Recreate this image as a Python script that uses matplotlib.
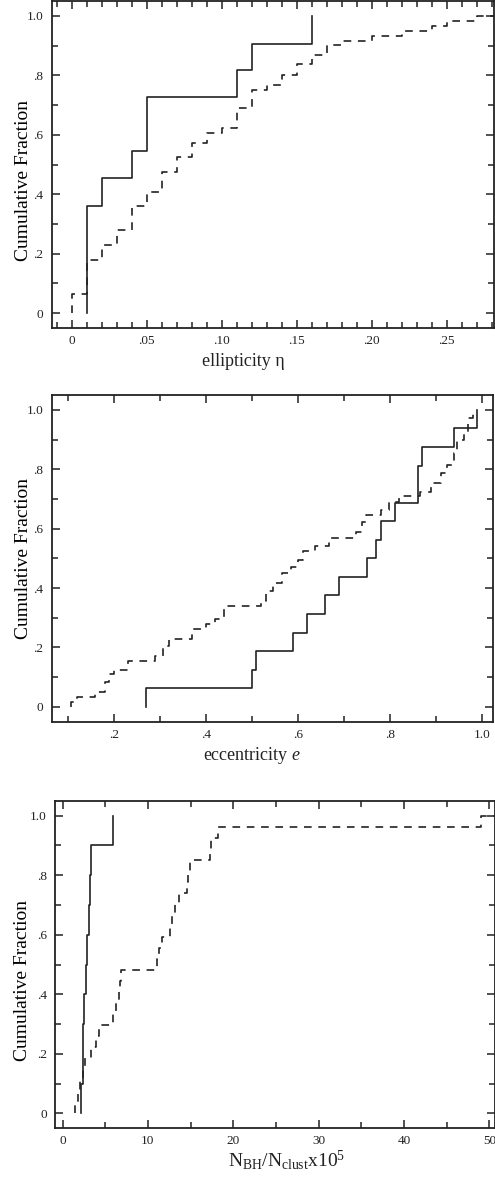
import matplotlib
matplotlib.use("Agg")
import matplotlib.pyplot as plt
from matplotlib.ticker import MultipleLocator, FuncFormatter
import numpy as np

plt.rcParams['font.family'] = ['Liberation Serif', 'DejaVu Serif']
plt.rcParams['mathtext.fontset'] = 'custom'
plt.rcParams['mathtext.rm'] = 'Liberation Serif'
plt.rcParams['mathtext.it'] = 'Liberation Serif:italic'
plt.rcParams['lines.scale_dashes'] = False

# ellipticity: step positions and cumulative fraction
eta_solid = [0.01, 0.02, 0.04, 0.05, 0.11, 0.12, 0.16]
frac_eta_solid = [0.362, 0.454, 0.545, 0.726, 0.818, 0.907, 1.0]
eta_dash = [0.00, 0.01, 0.02, 0.03, 0.04, 0.05, 0.06, 0.07, 0.08, 0.09, 0.10, 0.11,
            0.12, 0.13, 0.14, 0.15, 0.16, 0.17, 0.18, 0.20, 0.22, 0.24, 0.25, 0.27]
frac_eta_dash = [0.066, 0.180, 0.228, 0.279, 0.362, 0.409, 0.474, 0.525, 0.572, 0.605, 0.622, 0.689,
                 0.752, 0.768, 0.802, 0.838, 0.869, 0.902, 0.916, 0.933, 0.950, 0.966, 0.983, 1.0]

# eccentricity
ecc_solid = [0.27, 0.50, 0.51, 0.59, 0.62, 0.66, 0.69, 0.75, 0.77, 0.78, 0.81, 0.86, 0.86, 0.87, 0.94, 0.99]
frac_ecc_solid = [0.0625, 0.125, 0.1875, 0.25, 0.3125, 0.375, 0.4375, 0.5, 0.5625, 0.625, 0.6875,
                  0.75, 0.8125, 0.875, 0.9375, 1.0]
ecc_dash = [0.108, 0.12, 0.16, 0.18, 0.19, 0.20, 0.23, 0.29, 0.307, 0.32, 0.37, 0.40, 0.42, 0.44,
            0.52, 0.53, 0.545, 0.566, 0.586, 0.60, 0.611, 0.637, 0.668, 0.727, 0.739, 0.749, 0.78,
            0.798, 0.82, 0.865, 0.89, 0.91, 0.923, 0.939, 0.946, 0.96, 0.97, 0.98]
frac_ecc_dash = [0.017, 0.033, 0.050, 0.083, 0.110, 0.124, 0.155, 0.171, 0.205, 0.230, 0.263, 0.278,
                 0.295, 0.339, 0.356, 0.390, 0.418, 0.450, 0.470, 0.496, 0.524, 0.541, 0.570, 0.588,
                 0.621, 0.647, 0.664, 0.689, 0.709, 0.722, 0.754, 0.787, 0.815, 0.855, 0.899, 0.927,
                 0.972, 1.0]

# N_BH / N_clust x 1e5
nbh_solid = [2.2, 2.35, 2.45, 2.55, 2.7, 2.85, 3.1, 3.2, 3.3, 5.9]
frac_nbh_solid = [0.1, 0.2, 0.3, 0.4, 0.5, 0.6, 0.7, 0.8, 0.9, 1.0]
nbh_dash = [1.47, 1.85, 2.05, 2.37, 2.6, 3.34, 3.89, 4.3, 5.96, 6.3, 6.6, 6.75, 6.86, 11.04, 11.3,
            11.7, 12.6, 12.8, 13.2, 13.66, 14.56, 14.75, 14.9, 17.3, 17.4, 18.27, 49.06]
frac_nbh_dash = [0.037, 0.074, 0.111, 0.148, 0.185, 0.222, 0.259, 0.296, 0.333, 0.370, 0.407, 0.444,
                 0.481, 0.519, 0.556, 0.593, 0.630, 0.667, 0.704, 0.741, 0.778, 0.815, 0.852, 0.889,
                 0.926, 0.963, 1.0]

ink = '#222222'


def strip_zero(s):
    if s.startswith('0.'):
        s = s[1:]
    return s


def fmt1(v, pos):
    if abs(v) < 1e-9:
        return '0'
    return strip_zero(f'{v:.1f}')


def fmt2(v, pos):
    if abs(v) < 1e-9:
        return '0'
    return strip_zero(f'{v:.2f}')


def cdf(ax, x, f, dashed=False, extend=None):
    xs = [x[0]] + list(x)
    ys = [0.0] + list(f)
    if extend is not None:
        xs.append(extend)
        ys.append(f[-1])
    if dashed:
        ax.step(xs, ys, where='post', color=ink, lw=1.2, dashes=(5.5, 4.8))
    else:
        ax.step(xs, ys, where='post', color=ink, lw=1.2)


def style(ax):
    for s in ax.spines.values():
        s.set_linewidth(1.3)
        s.set_color(ink)
    ax.tick_params(which='both', direction='in', top=True, right=True, colors=ink,
                   labelsize=9.5, width=1.1)
    ax.tick_params(which='major', length=6)
    ax.tick_params(which='minor', length=4.5)
    ax.tick_params(axis='x', pad=5)
    ax.tick_params(axis='y', pad=6)
    ax.set_ylim(-0.05, 1.05)
    ax.yaxis.set_major_locator(MultipleLocator(0.2))
    ax.yaxis.set_minor_locator(MultipleLocator(0.1))
    ax.yaxis.set_major_formatter(FuncFormatter(fmt1))
    ax.set_ylabel('Cumulative Fraction', fontsize=14)


fig = plt.figure(figsize=(4.95, 11.8), dpi=100)
W, H = 495.0, 1180.0

ax1 = fig.add_axes([51.7 / W, 1 - 328 / H, (494 - 51.7) / W, (328 - 1) / H])
cdf(ax1, eta_solid, frac_eta_solid)
cdf(ax1, eta_dash, frac_eta_dash, dashed=True, extend=0.3)
ax1.set_xlim(-0.0133, 0.2815)
ax1.xaxis.set_major_locator(MultipleLocator(0.05))
ax1.xaxis.set_minor_locator(MultipleLocator(0.01))
ax1.xaxis.set_major_formatter(FuncFormatter(fmt2))
style(ax1)
ax1.yaxis.set_label_coords(-0.045, 0.45)
fig.text(243 / W, 1 - 362 / H, 'ellipticity \u03b7', fontsize=13, ha='center', va='center', color=ink)

ax2 = fig.add_axes([51.7 / W, 1 - 721.7 / H, (493 - 51.7) / W, (721.7 - 395) / H])
cdf(ax2, ecc_solid, frac_ecc_solid)
cdf(ax2, ecc_dash, frac_ecc_dash, dashed=True)
ax2.set_xlim(0.065, 1.024)
ax2.xaxis.set_major_locator(MultipleLocator(0.2))
ax2.xaxis.set_minor_locator(MultipleLocator(0.1))
ax2.xaxis.set_major_formatter(FuncFormatter(fmt1))
style(ax2)
ax2.yaxis.set_label_coords(-0.045, 0.5)
fig.text(252 / W, 1 - 755 / H, 'eccentricity $e$', fontsize=13, ha='center', va='center', color=ink)

ax3 = fig.add_axes([55 / W, 1 - 1128.3 / H, (494.5 - 55) / W, (1128.3 - 800.7) / H])
cdf(ax3, nbh_solid, frac_nbh_solid)
cdf(ax3, nbh_dash, frac_nbh_dash, dashed=True, extend=55)
ax3.set_xlim(-0.88, 50.6)
ax3.xaxis.set_major_locator(MultipleLocator(10))
ax3.xaxis.set_minor_locator(MultipleLocator(5))
style(ax3)
ax3.yaxis.set_label_coords(-0.055, 0.45)
fig.text(287 / W, 1 - 1160 / H, r'$\mathrm{N_{BH}/N_{clust}x10^{5}}$', fontsize=14,
         ha='center', va='center', color=ink)

fig.savefig('out.png', dpi=100)
